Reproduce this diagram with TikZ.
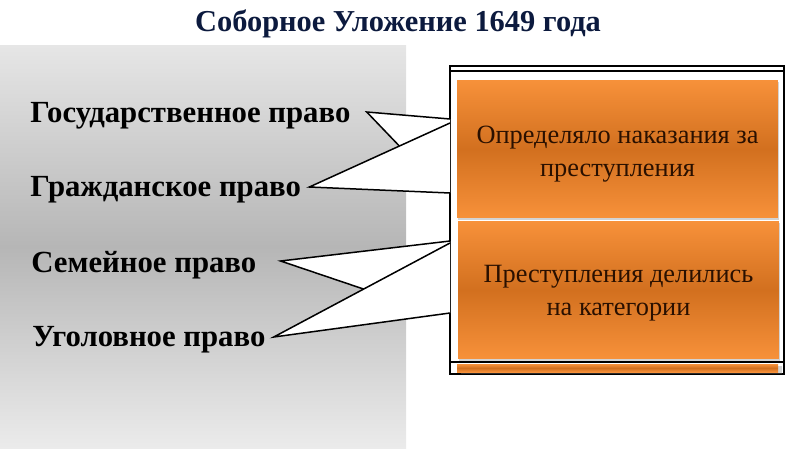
\documentclass[tikz,border=0pt]{standalone}
\usepackage{fontspec}
\setmainfont{Liberation Serif}
\usepackage{tikz}
\usetikzlibrary{calc,shadows}
\definecolor{titleblue}{HTML}{0C1A3E}
\definecolor{panellight}{HTML}{E6E6E6}
\definecolor{paneldark}{HTML}{B6B6B6}
\definecolor{boxlight}{HTML}{F7913A}
\definecolor{boxdark}{HTML}{D2701F}
\definecolor{boxtext}{HTML}{2A1000}
\tikzstyle{branch} = [anchor = west, inner sep = 0pt, font = \fontsize{17.5}{20}\selectfont\bfseries]
\tikzstyle{box} = [rectangle, top color = boxlight, bottom color = boxlight, middle color = boxdark, minimum width = 6.42cm, minimum height = 2.76cm, drop shadow = {opacity = 0.35, shadow xshift = 0.4pt, shadow yshift = -1.2pt}]
\tikzstyle{boxlabel} = [align = center, text = boxtext, font = \fontsize{15}{19}\selectfont]
\tikzstyle{link} = [line width = 0.3mm, line join = miter]

\begin{document}
\begin{tikzpicture}[x = 0.02cm, y = -0.02cm]
            \useasboundingbox (0, 0) rectangle (800, 450);
            \shade [top color = panellight, bottom color = panellight!80!white, middle color = paneldark] (0, 45) rectangle (406, 448);
            \node (title) at (398, 24) [font = \fontsize{17.3}{20}\selectfont\bfseries, text = titleblue] {Соборное Уложение 1649 года};
            % labels on the left
            \node (gos) at (30, 116) [branch] {Государственное право};
            \node (grazhd) at (30, 190) [branch] {Гражданское право};
            \node (sem) at (31, 265) [branch] {Семейное право};
            \node (ugol) at (32, 340) [branch] {Уголовное право};
            % frame on the right
            \draw [line width = 0.3mm] (450, 66) rectangle (784, 374);
            \draw [line width = 0.3mm] (450, 71) -- (784, 71);
            \draw [line width = 0.3mm] (450, 362) -- (784, 362);
            \fill [top color = boxlight, bottom color = boxlight, middle color = boxdark, drop shadow = {opacity = 0.35, shadow yshift = -1.2pt}] (457, 364) rectangle (778, 372);
            \node (nakaz) at (617.5, 149) [box, label = {[boxlabel, yshift = -0.1cm]center:Определяло наказания за\\преступления}] {};
            \node (kateg) at (618.5, 290) [box, label = {[boxlabel, yshift = -0.06cm]center:Преступления делились\\на категории}] {};
            % callout wedges
            \coordinate (gt) at ([shift = {(16, -4)}] gos.east);
            \coordinate (rt) at ([shift = {(8, -3)}] grazhd.east);
            \coordinate (st) at ([shift = {(24, -4)}] sem.east);
            \coordinate (ut) at ([shift = {(8, -3)}] ugol.east);
            \coordinate (f1) at (450, 119);
            \coordinate (f2) at (450, 123);
            \coordinate (f3) at (450, 193);
            \coordinate (f4) at (450, 241);
            \coordinate (f5) at (450, 243);
            \coordinate (f6) at (450, 313);
            \coordinate (m1) at ($(rt)!0.64!(f2)$);
            \coordinate (m2) at ($(ut)!0.51!(f5)$);
            \fill [white] (f1) -- (gt) -- (m1) -- (rt) -- (f3);
            \fill [white] (f4) -- (st) -- (m2) -- (ut) -- (f6);
            \draw [link] (f1) -- (gt) -- (m1);
            \draw [link] (f2) -- (rt) -- (f3);
            \draw [link] (f4) -- (st) -- (m2);
            \draw [link] (f5) -- (ut) -- (f6);
        \end{tikzpicture}
\end{document}
